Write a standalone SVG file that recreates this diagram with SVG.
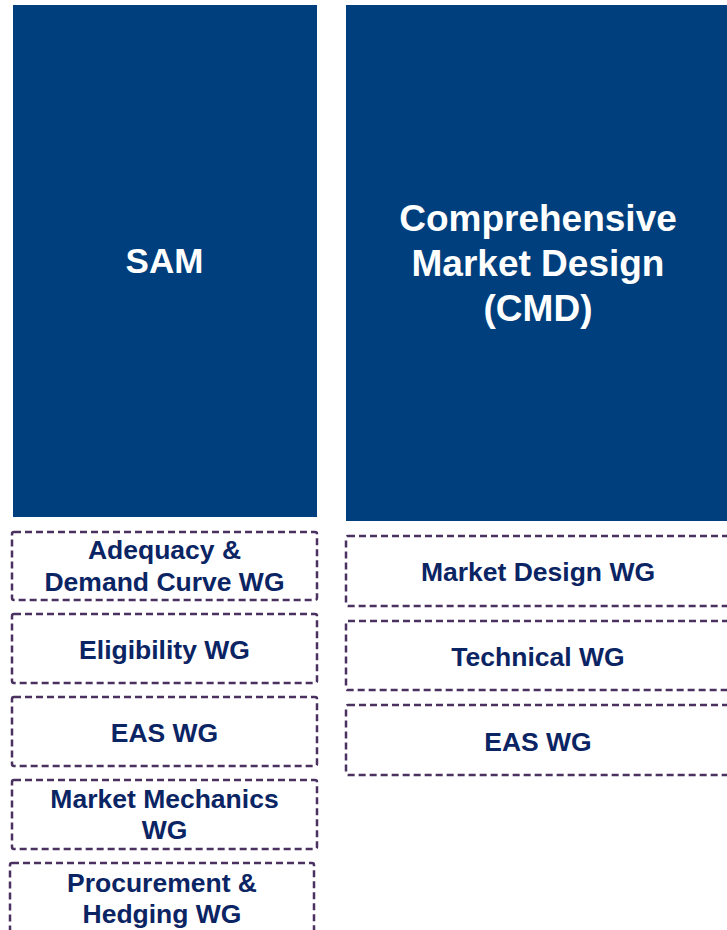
<svg xmlns="http://www.w3.org/2000/svg" width="727" height="930" viewBox="0 0 727 930">
  <style>
    .panel { fill: #003F7D; }
    .wg { fill: #FFFFFF; stroke: #4A3160; stroke-width: 2.5; stroke-dasharray: 7 4; }
    .title { font-family: "Liberation Sans", Arial, sans-serif; font-weight: bold; fill: #FFFFFF; text-anchor: middle; }
    .label { font-family: "Liberation Sans", Arial, sans-serif; font-weight: bold; font-size: 26.5px; fill: #0B2463; text-anchor: middle; }
  </style>
  <rect width="727" height="930" fill="#FFFFFF"/>

  <!-- SAM column -->
  <g id="sam">
    <rect class="panel" x="13" y="5" width="304" height="512"/>
    <text class="title" x="164.5" y="273" font-size="35">SAM</text>
  </g>
  <g id="sam-adequacy">
    <rect class="wg" x="12" y="532" width="305" height="68" rx="2"/>
    <text class="label" x="164.5" y="559">Adequacy &amp;</text>
    <text class="label" x="164.5" y="591">Demand Curve WG</text>
  </g>
  <g id="sam-eligibility">
    <rect class="wg" x="12" y="614" width="305" height="69" rx="2"/>
    <text class="label" x="164.5" y="659">Eligibility WG</text>
  </g>
  <g id="sam-eas">
    <rect class="wg" x="12" y="697" width="305" height="69" rx="2"/>
    <text class="label" x="164.5" y="742">EAS WG</text>
  </g>
  <g id="sam-mechanics">
    <rect class="wg" x="12" y="780" width="305" height="69" rx="2"/>
    <text class="label" x="164.5" y="808">Market Mechanics</text>
    <text class="label" x="164.5" y="839">WG</text>
  </g>
  <g id="sam-procurement">
    <rect class="wg" x="10" y="863" width="304" height="80" rx="2"/>
    <text class="label" x="162" y="892">Procurement &amp;</text>
    <text class="label" x="162" y="923">Hedging WG</text>
  </g>

  <!-- CMD column -->
  <g id="cmd">
    <rect class="panel" x="346" y="5" width="384" height="516"/>
    <text class="title" x="538" y="231" font-size="37">Comprehensive</text>
    <text class="title" x="538" y="276" font-size="37">Market Design</text>
    <text class="title" x="538" y="321" font-size="37">(CMD)</text>
  </g>
  <g id="cmd-market-design">
    <rect class="wg" x="346" y="536" width="384" height="70" rx="2"/>
    <text class="label" x="538" y="581">Market Design WG</text>
  </g>
  <g id="cmd-technical">
    <rect class="wg" x="346" y="621" width="384" height="69" rx="2"/>
    <text class="label" x="538" y="666">Technical WG</text>
  </g>
  <g id="cmd-eas">
    <rect class="wg" x="346" y="705" width="384" height="70" rx="2"/>
    <text class="label" x="538" y="751">EAS WG</text>
  </g>

  <g id="connectors"/>
</svg>
